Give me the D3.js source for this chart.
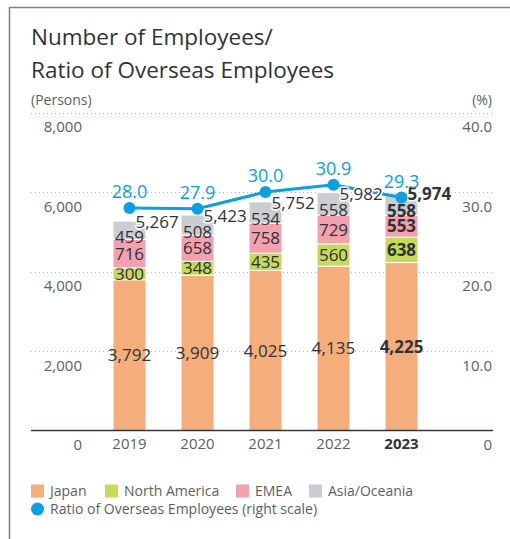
<!DOCTYPE html>
<html>
<head>
<meta charset="utf-8">
<script src="https://cdn.jsdelivr.net/npm/d3@7"></script>
<style>
  body { margin: 0; background: #fff; }
  svg { display: block; font-family: "Open Sans", sans-serif; }
</style>
</head>
<body>
<div id="chart"></div>
<script>
var years = ["2019", "2020", "2021", "2022", "2023"];
var japan = [3792, 3909, 4025, 4135, 4225];
var northAmerica = [300, 348, 435, 560, 638];
var emea = [716, 658, 758, 729, 553];
var asiaOceania = [459, 508, 534, 558, 558];
var overseasRatio = [28.0, 27.9, 30.0, 30.9, 29.3];
var leftTicks = [0, 2000, 4000, 6000, 8000];
var rightTicks = [0, 10, 20, 30, 40];

var regions = [
  { name: "Japan", values: japan, color: "#f5ae7b" },
  { name: "North America", values: northAmerica, color: "#c6d95b" },
  { name: "EMEA", values: emea, color: "#f3a1af" },
  { name: "Asia/Oceania", values: asiaOceania, color: "#cccdd0" }
];

var w = 510;
var h = 539;
var blue = "#0aa0e2";
var dark = "#2f3337";
var gray = "#5a5f63";

var svg = d3.select("#chart")
  .append("svg")
  .attr("width", w)
  .attr("height", h);

// frame
svg.append("path")
  .attr("d", "M9.5," + h + "V7.5H" + w)
  .attr("fill", "none")
  .attr("stroke", "#7d8084")
  .attr("stroke-width", 1.5);

svg.append("text")
  .attr("x", 31)
  .attr("y", 45)
  .attr("fill", dark)
  .style("font-size", "22.5px")
  .text("Number of Employees/");

svg.append("text")
  .attr("x", 31)
  .attr("y", 78)
  .attr("fill", dark)
  .style("font-size", "22.5px")
  .text("Ratio of Overseas Employees");

svg.append("text")
  .attr("x", 31)
  .attr("y", 105)
  .attr("fill", gray)
  .style("font-size", "14px")
  .text("(Persons)");

svg.append("text")
  .attr("x", 492)
  .attr("y", 105)
  .attr("text-anchor", "end")
  .attr("fill", gray)
  .style("font-size", "14px")
  .text("(%)");

var xScale = d3.scaleBand()
  .domain(years)
  .range([95.5, 435.5])
  .paddingInner(0.515)
  .paddingOuter(0.2575);

var yScale = d3.scaleLinear()
  .domain([0, 8000])
  .range([430.5, 112.5]);

var rScale = d3.scaleLinear()
  .domain([0, 40])
  .range([430.5, 112.5]);

// gridlines
svg.selectAll("line.grid")
  .data(leftTicks.slice(1))
  .enter()
  .append("line")
  .attr("class", "grid")
  .attr("x1", 31)
  .attr("x2", 493)
  .attr("y1", function(d) { return Math.round(yScale(d)) + 0.5; })
  .attr("y2", function(d) { return Math.round(yScale(d)) + 0.5; })
  .attr("stroke", "#b5b8bb")
  .attr("stroke-width", 1)
  .attr("stroke-dasharray", "1,3");

var leftAxis = svg.append("g")
  .attr("transform", "translate(82,0)")
  .call(d3.axisLeft(yScale).tickValues(leftTicks).tickSize(0).tickPadding(0)
    .tickFormat(d3.format(",")));
leftAxis.select(".domain").remove();
leftAxis.selectAll("text")
  .attr("dy", 19)
  .attr("fill", gray)
  .style("font-size", "15px")
  .style("font-family", "Open Sans, sans-serif");

var rightAxis = svg.append("g")
  .attr("transform", "translate(492,0)")
  .call(d3.axisLeft(rScale).tickValues(rightTicks).tickSize(0).tickPadding(0)
    .tickFormat(function(d) { return d == 0 ? "0" : d3.format(".1f")(d); }));
rightAxis.select(".domain").remove();
rightAxis.selectAll("text")
  .attr("dy", 19)
  .attr("fill", gray)
  .style("font-size", "15px")
  .style("font-family", "Open Sans, sans-serif");

// stacked bars
var table = years.map(function(y, i) {
  var row = { year: y };
  regions.forEach(function(r) { row[r.name] = r.values[i]; });
  return row;
});

var stack = d3.stack().keys(regions.map(function(r) { return r.name; }));
var series = stack(table);

var layers = svg.selectAll("g.layer")
  .data(series)
  .enter()
  .append("g")
  .attr("class", "layer")
  .attr("fill", function(d, i) { return regions[i].color; });

layers.selectAll("rect")
  .data(function(d) { return d; })
  .enter()
  .append("rect")
  .attr("x", function(d) { return xScale(d.data.year); })
  .attr("y", function(d) { return yScale(d[1]); })
  .attr("width", xScale.bandwidth())
  .attr("height", function(d) { return yScale(d[0]) - yScale(d[1]); })
  .attr("stroke", "#fff")
  .attr("stroke-width", 1);

// top segment labels sit a bit low, under the total
layers.selectAll("text")
  .data(function(d, i) {
    return d.map(function(p) { return { p: p, top: i == series.length - 1 }; });
  })
  .enter()
  .append("text")
  .attr("x", function(d) { return xScale(d.p.data.year) + xScale.bandwidth() / 2; })
  .attr("y", function(d) {
    return (yScale(d.p[0]) + yScale(d.p[1])) / 2 + (d.top ? 6.5 : 0);
  })
  .attr("dy", "0.36em")
  .attr("text-anchor", "middle")
  .attr("fill", dark)
  .style("font-size", "17px")
  .style("font-weight", function(d) { return d.p.data.year == "2023" ? "bold" : "normal"; })
  .text(function(d) { return d3.format(",")(d.p[1] - d.p[0]); });

// baseline
svg.append("line")
  .attr("x1", 31)
  .attr("x2", 493)
  .attr("y1", yScale(0))
  .attr("y2", yScale(0))
  .attr("stroke", "#2c3a45")
  .attr("stroke-width", 1.5);

svg.selectAll("text.year")
  .data(years)
  .enter()
  .append("text")
  .attr("class", "year")
  .attr("x", function(d) { return xScale(d) + xScale.bandwidth() / 2; })
  .attr("y", 449)
  .attr("text-anchor", "middle")
  .attr("fill", function(d) { return d == "2023" ? dark : gray; })
  .style("font-size", "15px")
  .style("font-weight", function(d) { return d == "2023" ? "bold" : "normal"; })
  .text(function(d) { return d; });

// totals
var totals = series[series.length - 1];

// ratio line
var line = d3.line()
  .x(function(d, i) { return xScale(years[i]) + xScale.bandwidth() / 2; })
  .y(function(d) { return rScale(d); });

svg.append("path")
  .datum(overseasRatio)
  .attr("d", line)
  .attr("fill", "none")
  .attr("stroke", blue)
  .attr("stroke-width", 3);

svg.selectAll("text.total")
  .data(totals)
  .enter()
  .append("text")
  .attr("class", "total")
  .attr("x", function(d) { return xScale(d.data.year) + xScale.bandwidth() / 2 + 6; })
  .attr("y", function(d) { return yScale(d[1]) + 1; })
  .attr("dy", "0.36em")
  .attr("fill", dark)
  .attr("stroke", "#fff")
  .attr("stroke-width", 3)
  .attr("stroke-linejoin", "round")
  .style("paint-order", "stroke")
  .style("font-size", "17px")
  .style("font-weight", function(d) { return d.data.year == "2023" ? "bold" : "normal"; })
  .text(function(d) { return d3.format(",")(d[1]); });

svg.selectAll("circle.ratio")
  .data(overseasRatio)
  .enter()
  .append("circle")
  .attr("class", "ratio")
  .attr("cx", function(d, i) { return xScale(years[i]) + xScale.bandwidth() / 2; })
  .attr("cy", function(d) { return rScale(d); })
  .attr("r", 6)
  .attr("fill", blue);

svg.selectAll("text.ratioLabel")
  .data(overseasRatio)
  .enter()
  .append("text")
  .attr("class", "ratioLabel")
  .attr("x", function(d, i) { return xScale(years[i]) + xScale.bandwidth() / 2; })
  .attr("y", function(d) { return rScale(d) - 16; })
  .attr("dy", "0.36em")
  .attr("text-anchor", "middle")
  .attr("fill", blue)
  .style("font-size", "18px")
  .text(function(d) { return d3.format(".1f")(d); });

// legend
var legendItems = [
  { name: "Japan", x: 31 },
  { name: "North America", x: 105 },
  { name: "EMEA", x: 236 },
  { name: "Asia/Oceania", x: 309 }
];

var legend = svg.selectAll("g.legend")
  .data(legendItems)
  .enter()
  .append("g")
  .attr("class", "legend")
  .attr("transform", function(d) { return "translate(" + d.x + ",491)"; });

legend.append("rect")
  .attr("x", 0)
  .attr("y", -6.5)
  .attr("width", 13)
  .attr("height", 13)
  .attr("fill", function(d, i) { return regions[i].color; });

legend.append("text")
  .attr("x", 19)
  .attr("dy", "0.36em")
  .attr("fill", gray)
  .style("font-size", "14px")
  .text(function(d) { return d.name; });

svg.append("circle")
  .attr("cx", 37.5)
  .attr("cy", 509)
  .attr("r", 6.5)
  .attr("fill", blue);

svg.append("text")
  .attr("x", 50)
  .attr("y", 509)
  .attr("dy", "0.36em")
  .attr("fill", gray)
  .style("font-size", "14px")
  .text("Ratio of Overseas Employees (right scale)");
</script>
</body>
</html>
